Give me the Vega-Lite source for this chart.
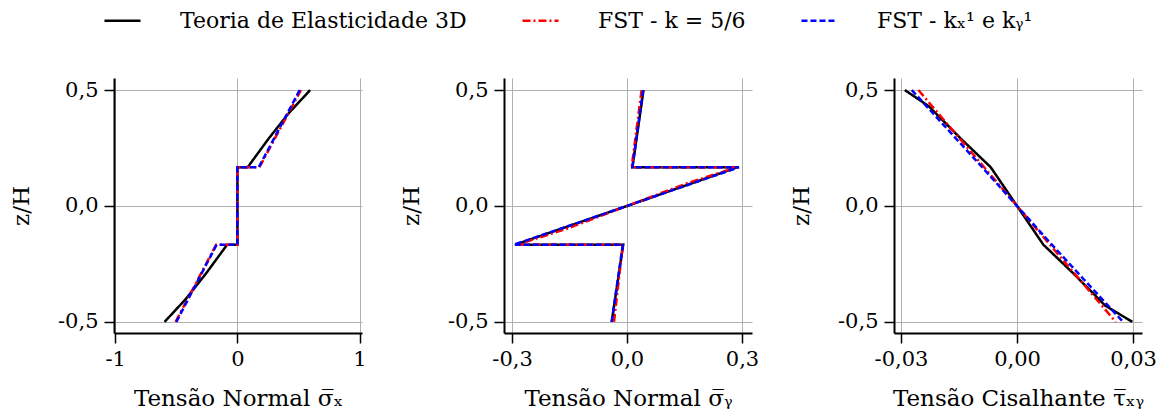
{
  "$schema": "https://vega.github.io/schema/vega-lite/v6.json",
  "background": "white",
  "padding": {"left": 10, "top": 1, "right": 5, "bottom": 5},
  "datasets": {
    "tensoes": [
      {"painel": "sx", "serie": "Teoria de Elasticidade 3D", "i": 1, "x": -0.596, "z": -0.5},
      {"painel": "sx", "serie": "Teoria de Elasticidade 3D", "i": 2, "x": -0.42, "z": -0.40},
      {"painel": "sx", "serie": "Teoria de Elasticidade 3D", "i": 3, "x": -0.255, "z": -0.29},
      {"painel": "sx", "serie": "Teoria de Elasticidade 3D", "i": 4, "x": -0.084, "z": -0.167},
      {"painel": "sx", "serie": "Teoria de Elasticidade 3D", "i": 5, "x": 0.0, "z": -0.167},
      {"painel": "sx", "serie": "Teoria de Elasticidade 3D", "i": 6, "x": 0.0, "z": 0.167},
      {"painel": "sx", "serie": "Teoria de Elasticidade 3D", "i": 7, "x": 0.084, "z": 0.167},
      {"painel": "sx", "serie": "Teoria de Elasticidade 3D", "i": 8, "x": 0.255, "z": 0.29},
      {"painel": "sx", "serie": "Teoria de Elasticidade 3D", "i": 9, "x": 0.42, "z": 0.40},
      {"painel": "sx", "serie": "Teoria de Elasticidade 3D", "i": 10, "x": 0.596, "z": 0.5},

      {"painel": "sx", "serie": "FST - k = 5/6", "i": 1, "x": -0.506, "z": -0.5},
      {"painel": "sx", "serie": "FST - k = 5/6", "i": 2, "x": -0.174, "z": -0.167},
      {"painel": "sx", "serie": "FST - k = 5/6", "i": 3, "x": 0.0, "z": -0.167},
      {"painel": "sx", "serie": "FST - k = 5/6", "i": 4, "x": 0.0, "z": 0.167},
      {"painel": "sx", "serie": "FST - k = 5/6", "i": 5, "x": 0.18, "z": 0.167},
      {"painel": "sx", "serie": "FST - k = 5/6", "i": 6, "x": 0.52, "z": 0.5},

      {"painel": "sx", "serie": "FST - kₓ¹ e kᵧ¹", "i": 1, "x": -0.50, "z": -0.5},
      {"painel": "sx", "serie": "FST - kₓ¹ e kᵧ¹", "i": 2, "x": -0.17, "z": -0.167},
      {"painel": "sx", "serie": "FST - kₓ¹ e kᵧ¹", "i": 3, "x": 0.0, "z": -0.167},
      {"painel": "sx", "serie": "FST - kₓ¹ e kᵧ¹", "i": 4, "x": 0.0, "z": 0.167},
      {"painel": "sx", "serie": "FST - kₓ¹ e kᵧ¹", "i": 5, "x": 0.175, "z": 0.167},
      {"painel": "sx", "serie": "FST - kₓ¹ e kᵧ¹", "i": 6, "x": 0.51, "z": 0.5},

      {"painel": "sy", "serie": "Teoria de Elasticidade 3D", "i": 1, "x": -0.040, "z": -0.5},
      {"painel": "sy", "serie": "Teoria de Elasticidade 3D", "i": 2, "x": -0.010, "z": -0.167},
      {"painel": "sy", "serie": "Teoria de Elasticidade 3D", "i": 3, "x": -0.292, "z": -0.167},
      {"painel": "sy", "serie": "Teoria de Elasticidade 3D", "i": 4, "x": 0.0, "z": 0.0},
      {"painel": "sy", "serie": "Teoria de Elasticidade 3D", "i": 5, "x": 0.288, "z": 0.167},
      {"painel": "sy", "serie": "Teoria de Elasticidade 3D", "i": 6, "x": 0.014, "z": 0.167},
      {"painel": "sy", "serie": "Teoria de Elasticidade 3D", "i": 7, "x": 0.043, "z": 0.5},

      {"painel": "sy", "serie": "FST - k = 5/6", "i": 1, "x": -0.034, "z": -0.5},
      {"painel": "sy", "serie": "FST - k = 5/6", "i": 2, "x": -0.011, "z": -0.167},
      {"painel": "sy", "serie": "FST - k = 5/6", "i": 3, "x": -0.287, "z": -0.167},
      {"painel": "sy", "serie": "FST - k = 5/6", "i": 4, "x": -0.16, "z": -0.10},
      {"painel": "sy", "serie": "FST - k = 5/6", "i": 5, "x": 0.0, "z": 0.0},
      {"painel": "sy", "serie": "FST - k = 5/6", "i": 6, "x": 0.16, "z": 0.10},
      {"painel": "sy", "serie": "FST - k = 5/6", "i": 7, "x": 0.287, "z": 0.167},
      {"painel": "sy", "serie": "FST - k = 5/6", "i": 8, "x": 0.012, "z": 0.167},
      {"painel": "sy", "serie": "FST - k = 5/6", "i": 9, "x": 0.038, "z": 0.5},

      {"painel": "sy", "serie": "FST - kₓ¹ e kᵧ¹", "i": 1, "x": -0.040, "z": -0.5},
      {"painel": "sy", "serie": "FST - kₓ¹ e kᵧ¹", "i": 2, "x": -0.011, "z": -0.167},
      {"painel": "sy", "serie": "FST - kₓ¹ e kᵧ¹", "i": 3, "x": -0.295, "z": -0.167},
      {"painel": "sy", "serie": "FST - kₓ¹ e kᵧ¹", "i": 4, "x": 0.0, "z": 0.0},
      {"painel": "sy", "serie": "FST - kₓ¹ e kᵧ¹", "i": 5, "x": 0.292, "z": 0.167},
      {"painel": "sy", "serie": "FST - kₓ¹ e kᵧ¹", "i": 6, "x": 0.014, "z": 0.167},
      {"painel": "sy", "serie": "FST - kₓ¹ e kᵧ¹", "i": 7, "x": 0.042, "z": 0.5},

      {"painel": "txy", "serie": "Teoria de Elasticidade 3D", "i": 1, "x": -0.029, "z": 0.5},
      {"painel": "txy", "serie": "Teoria de Elasticidade 3D", "i": 2, "x": -0.0228, "z": 0.43},
      {"painel": "txy", "serie": "Teoria de Elasticidade 3D", "i": 3, "x": -0.0145, "z": 0.29},
      {"painel": "txy", "serie": "Teoria de Elasticidade 3D", "i": 4, "x": -0.0068, "z": 0.167},
      {"painel": "txy", "serie": "Teoria de Elasticidade 3D", "i": 5, "x": 0.0, "z": 0.0},
      {"painel": "txy", "serie": "Teoria de Elasticidade 3D", "i": 6, "x": 0.0068, "z": -0.167},
      {"painel": "txy", "serie": "Teoria de Elasticidade 3D", "i": 7, "x": 0.0145, "z": -0.29},
      {"painel": "txy", "serie": "Teoria de Elasticidade 3D", "i": 8, "x": 0.0228, "z": -0.43},
      {"painel": "txy", "serie": "Teoria de Elasticidade 3D", "i": 9, "x": 0.0298, "z": -0.5},

      {"painel": "txy", "serie": "FST - k = 5/6", "i": 1, "x": -0.0255, "z": 0.5},
      {"painel": "txy", "serie": "FST - k = 5/6", "i": 2, "x": -0.0085, "z": 0.167},
      {"painel": "txy", "serie": "FST - k = 5/6", "i": 3, "x": 0.0, "z": 0.0},
      {"painel": "txy", "serie": "FST - k = 5/6", "i": 4, "x": 0.0085, "z": -0.167},
      {"painel": "txy", "serie": "FST - k = 5/6", "i": 5, "x": 0.0255, "z": -0.5},

      {"painel": "txy", "serie": "FST - kₓ¹ e kᵧ¹", "i": 1, "x": -0.0272, "z": 0.5},
      {"painel": "txy", "serie": "FST - kₓ¹ e kᵧ¹", "i": 2, "x": -0.0090, "z": 0.167},
      {"painel": "txy", "serie": "FST - kₓ¹ e kᵧ¹", "i": 3, "x": 0.0, "z": 0.0},
      {"painel": "txy", "serie": "FST - kₓ¹ e kᵧ¹", "i": 4, "x": 0.0090, "z": -0.167},
      {"painel": "txy", "serie": "FST - kₓ¹ e kᵧ¹", "i": 5, "x": 0.0274, "z": -0.5}
    ]
  },
  "config": {
    "font": "DejaVu Serif",
    "view": {"stroke": null},
    "axis": {
      "labelFont": "DejaVu Serif",
      "labelFontSize": 21,
      "labelColor": "black",
      "titleFont": "DejaVu Serif",
      "titleFontSize": 23,
      "titleFontWeight": "normal",
      "titleColor": "black",
      "domainColor": "black",
      "domainWidth": 2,
      "tickColor": "black",
      "tickWidth": 1.5,
      "tickSize": 10,
      "gridColor": "#b0b0b0",
      "gridWidth": 1
    },
    "axisX": {"labelPadding": 5, "titlePadding": 18},
    "axisY": {"labelPadding": 6, "titlePadding": 24},
    "legend": {
      "labelFont": "DejaVu Serif",
      "labelFontSize": 22,
      "labelColor": "black",
      "labelLimit": 0,
      "padding": 0
    }
  },
  "spacing": 142,
  "bounds": "flush",
  "hconcat": [
    {
      "width": 248,
      "height": 255,
      "data": {"name": "tensoes"},
      "transform": [{"filter": "datum.painel === 'sx'"}],
      "mark": {"type": "line", "strokeWidth": 2.5},
      "encoding": {
        "x": {"field": "x", "type": "quantitative",
              "scale": {"domain": [-1.01, 1.02], "nice": false, "zero": false},
              "axis": {"values": [-1, 0, 1], "title": "Tensão Normal σ̅ₓ",
                       "labelExpr": "replace(format(datum.value, 'd'), '−', '-')"}},
        "y": {"field": "z", "type": "quantitative",
              "scale": {"domain": [-0.548, 0.552], "nice": false, "zero": false},
              "axis": {"values": [-0.5, 0, 0.5], "title": "z/H",
                       "labelExpr": "replace(replace(format(datum.value, '.1f'), '.', ','), '−', '-')"}},
        "color": {"field": "serie", "type": "nominal",
                  "scale": {"domain": ["Teoria de Elasticidade 3D", "FST - k = 5/6", "FST - kₓ¹ e kᵧ¹"], "range": ["black", "red", "blue"]},
                  "legend": {"title": null, "orient": "none", "legendX": -11, "legendY": -77, "direction": "horizontal",
                             "symbolType": "stroke", "symbolSize": 1300, "symbolStrokeWidth": 2.5, "labelOffset": 38, "columnPadding": 50}},
        "strokeDash": {"field": "serie", "type": "nominal",
                       "scale": {"domain": ["Teoria de Elasticidade 3D", "FST - k = 5/6", "FST - kₓ¹ e kᵧ¹"], "range": [[1, 0], [8, 3, 2, 3], [6, 3]]},
                       "legend": {"title": null, "orient": "none", "legendX": -11, "legendY": -77, "direction": "horizontal",
                                  "symbolType": "stroke", "symbolSize": 1300, "symbolStrokeWidth": 2.5, "labelOffset": 38, "columnPadding": 50}},
        "order": {"field": "i", "type": "quantitative"}
      }
    },
    {
      "width": 248,
      "height": 255,
      "data": {"name": "tensoes"},
      "transform": [{"filter": "datum.painel === 'sy'"}],
      "mark": {"type": "line", "strokeWidth": 2.5},
      "encoding": {
        "x": {"field": "x", "type": "quantitative",
              "scale": {"domain": [-0.321, 0.326], "nice": false, "zero": false},
              "axis": {"values": [-0.3, 0, 0.3], "title": "Tensão Normal σ̅ᵧ",
                       "labelExpr": "replace(replace(format(datum.value, '.1f'), '.', ','), '−', '-')"}},
        "y": {"field": "z", "type": "quantitative",
              "scale": {"domain": [-0.548, 0.552], "nice": false, "zero": false},
              "axis": {"values": [-0.5, 0, 0.5], "title": "z/H",
                       "labelExpr": "replace(replace(format(datum.value, '.1f'), '.', ','), '−', '-')"}},
        "color": {"field": "serie", "type": "nominal",
                  "scale": {"domain": ["Teoria de Elasticidade 3D", "FST - k = 5/6", "FST - kₓ¹ e kᵧ¹"], "range": ["black", "red", "blue"]}},
        "strokeDash": {"field": "serie", "type": "nominal",
                       "scale": {"domain": ["Teoria de Elasticidade 3D", "FST - k = 5/6", "FST - kₓ¹ e kᵧ¹"], "range": [[1, 0], [8, 3, 2, 3], [6, 3]]}},
        "order": {"field": "i", "type": "quantitative"}
      }
    },
    {
      "width": 248,
      "height": 255,
      "data": {"name": "tensoes"},
      "transform": [{"filter": "datum.painel === 'txy'"}],
      "mark": {"type": "line", "strokeWidth": 2.5},
      "encoding": {
        "x": {"field": "x", "type": "quantitative",
              "scale": {"domain": [-0.0318, 0.0323], "nice": false, "zero": false},
              "axis": {"values": [-0.03, 0, 0.03], "title": "Tensão Cisalhante τ̅ₓᵧ",
                       "labelExpr": "replace(replace(format(datum.value, '.2f'), '.', ','), '−', '-')"}},
        "y": {"field": "z", "type": "quantitative",
              "scale": {"domain": [-0.548, 0.552], "nice": false, "zero": false},
              "axis": {"values": [-0.5, 0, 0.5], "title": "z/H",
                       "labelExpr": "replace(replace(format(datum.value, '.1f'), '.', ','), '−', '-')"}},
        "color": {"field": "serie", "type": "nominal",
                  "scale": {"domain": ["Teoria de Elasticidade 3D", "FST - k = 5/6", "FST - kₓ¹ e kᵧ¹"], "range": ["black", "red", "blue"]}},
        "strokeDash": {"field": "serie", "type": "nominal",
                       "scale": {"domain": ["Teoria de Elasticidade 3D", "FST - k = 5/6", "FST - kₓ¹ e kᵧ¹"], "range": [[1, 0], [8, 3, 2, 3], [6, 3]]}},
        "order": {"field": "i", "type": "quantitative"}
      }
    }
  ]
}
